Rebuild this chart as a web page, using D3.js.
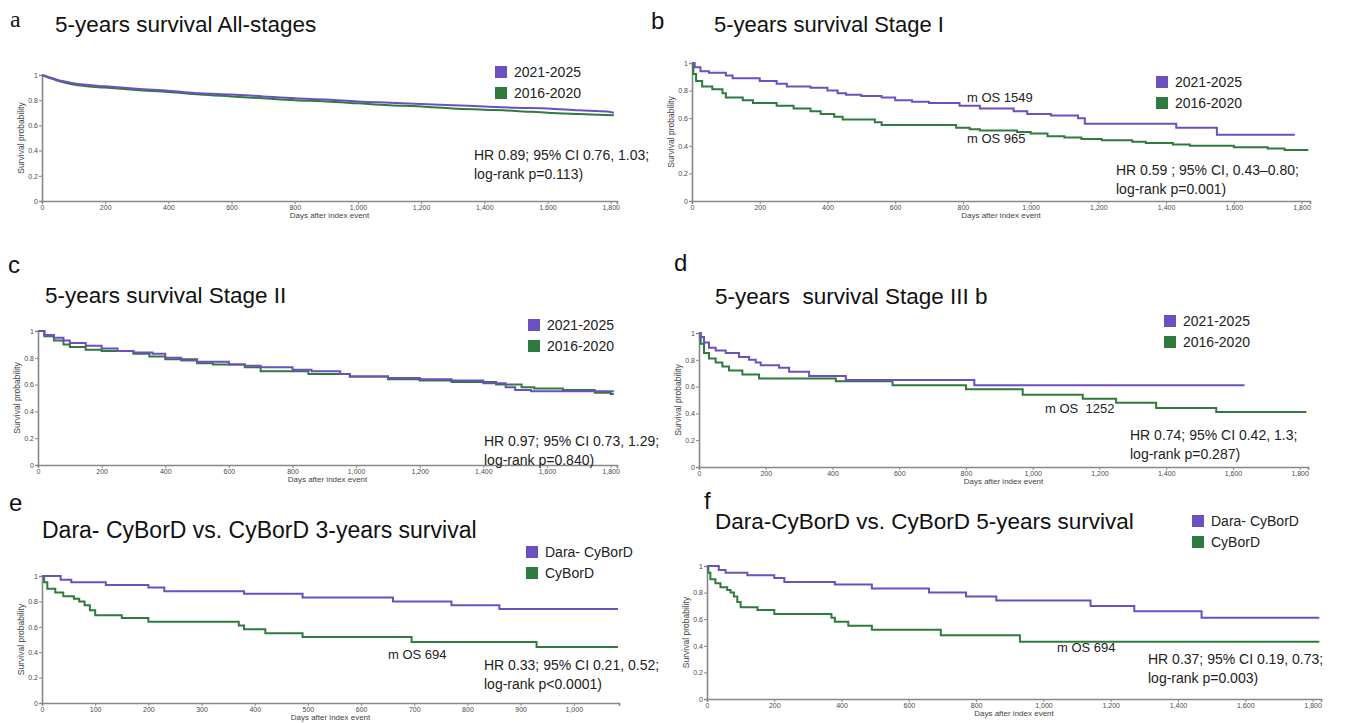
<!DOCTYPE html>
<html>
<head>
<meta charset="utf-8">
<script src="https://cdn.jsdelivr.net/npm/d3@7"></script>
<style>
  body { margin: 0; background: #fff; }
  svg { font-family: "Liberation Sans", Arial, sans-serif; }
  text { white-space: pre; }
</style>
</head>
<body>
<svg id="chart" width="1348" height="723"></svg>
<script>
// legend labels
const periodLabels = ['2021-2025', '2016-2020'];
const regimenLabels = ['Dara- CyBorD', 'CyBorD'];

// survival curves: [days, survival probability]
const aRecent = [[0,1],[20,0.985],[50,0.96],[100,0.935],[200,0.91],[300,0.89],[400,0.875],[500,0.855],[600,0.845],[700,0.83],[800,0.815],[900,0.805],[1000,0.79],[1100,0.78],[1200,0.77],[1300,0.76],[1400,0.75],[1500,0.74],[1600,0.735],[1700,0.72],[1790,0.71],[1810,0.70]];
const aOlder = [[0,1],[20,0.98],[50,0.955],[100,0.925],[200,0.90],[300,0.88],[400,0.865],[500,0.845],[600,0.83],[700,0.815],[800,0.80],[900,0.79],[1000,0.775],[1100,0.76],[1200,0.75],[1300,0.735],[1400,0.725],[1500,0.715],[1600,0.70],[1700,0.69],[1810,0.68]];

const bRecent = [[0,1],[8,0.97],[25,0.94],[50,0.93],[100,0.91],[120,0.89],[200,0.87],[250,0.85],[280,0.83],[350,0.82],[400,0.80],[430,0.78],[455,0.77],[500,0.76],[560,0.75],[600,0.73],[650,0.72],[700,0.71],[790,0.69],[850,0.67],[950,0.65],[990,0.63],[1060,0.62],[1140,0.60],[1160,0.56],[1430,0.53],[1550,0.48],[1780,0.48]];
const bOlder = [[0,1],[4,0.92],[12,0.87],[30,0.83],[60,0.81],[90,0.78],[100,0.75],[150,0.73],[180,0.71],[250,0.69],[300,0.67],[350,0.65],[380,0.63],[420,0.61],[445,0.59],[540,0.57],[560,0.55],[780,0.53],[820,0.52],[850,0.51],[960,0.50],[1000,0.49],[1050,0.47],[1100,0.46],[1150,0.45],[1210,0.44],[1300,0.43],[1340,0.42],[1420,0.41],[1470,0.40],[1600,0.39],[1700,0.38],[1750,0.37],[1820,0.37]];

const cRecent = [[0,1],[20,0.97],[50,0.95],[80,0.93],[100,0.91],[150,0.89],[200,0.87],[250,0.85],[300,0.84],[360,0.83],[400,0.80],[450,0.78],[500,0.77],[600,0.75],[650,0.74],[700,0.73],[800,0.71],[860,0.70],[950,0.68],[980,0.66],[1100,0.65],[1200,0.64],[1300,0.63],[1400,0.61],[1470,0.58],[1500,0.56],[1550,0.55],[1810,0.55]];
const cOlder = [[0,1],[20,0.96],[50,0.93],[80,0.90],[100,0.88],[150,0.86],[200,0.85],[300,0.83],[350,0.81],[400,0.79],[500,0.76],[550,0.75],[650,0.73],[700,0.70],[850,0.68],[980,0.66],[1100,0.64],[1200,0.63],[1300,0.62],[1440,0.60],[1520,0.58],[1560,0.57],[1650,0.56],[1750,0.54],[1800,0.53],[1810,0.53]];

const dRecent = [[0,1],[5,0.97],[15,0.93],[30,0.89],[50,0.87],[80,0.85],[120,0.82],[150,0.80],[170,0.78],[185,0.76],[240,0.74],[270,0.71],[330,0.68],[440,0.65],[825,0.61],[1635,0.61]];
const dOlder = [[0,1],[5,0.92],[15,0.85],[30,0.81],[50,0.78],[70,0.75],[90,0.72],[130,0.69],[180,0.66],[410,0.64],[580,0.61],[800,0.58],[970,0.54],[1150,0.51],[1250,0.48],[1370,0.44],[1550,0.41],[1820,0.41]];

const eDara = [[0,1],[35,0.97],[55,0.95],[120,0.93],[200,0.91],[230,0.88],[380,0.86],[490,0.83],[660,0.80],[770,0.77],[860,0.74],[1083,0.74]];
const eCybord = [[0,1],[4,0.95],[10,0.90],[25,0.87],[40,0.84],[60,0.82],[70,0.80],[80,0.77],[90,0.73],[100,0.69],[150,0.67],[200,0.64],[370,0.61],[380,0.58],[420,0.55],[490,0.52],[695,0.48],[930,0.44],[1083,0.44]];

const fDara = [[0,1],[35,0.97],[55,0.95],[120,0.93],[200,0.91],[230,0.88],[380,0.86],[490,0.83],[660,0.80],[770,0.77],[860,0.74],[1140,0.70],[1270,0.66],[1470,0.61],[1820,0.61]];
const fCybord = [[0,1],[4,0.95],[10,0.90],[25,0.87],[40,0.84],[60,0.82],[70,0.80],[80,0.77],[90,0.73],[100,0.69],[150,0.67],[200,0.64],[370,0.61],[380,0.58],[420,0.55],[490,0.52],[695,0.48],[930,0.43],[1820,0.43]];

const fiveYearTicks = [0,200,400,600,800,1000,1200,1400,1600,1800];
const threeYearTicks = [0,100,200,300,400,500,600,700,800,900,1000];
const yTicks = [0,0.2,0.4,0.6,0.8,1];

const purple = '#6c4fc0';
const green = '#2f7a3d';

const svg = d3.select('#chart');

const panels = [
  { letter: 'a', letterX: 10, letterY: 27, serif: true, title: '5-years survival All-stages', titleX: 55, titleY: 32, titleSize: 22.5,
    left: 42, right: 617, top: 75, bottom: 201, xMax: 1820, ticks: fiveYearTicks, step: false,
    series: [aRecent, aOlder], labels: periodLabels, legX: 501, legY: 72,
    stats: ['HR 0.89; 95% CI 0.76, 1.03;', 'log-rank p=0.113)'], statX: 474, statY: 160, notes: [] },
  { letter: 'b', letterX: 651, letterY: 29, title: '5-years survival Stage I', titleX: 714, titleY: 32, titleSize: 22,
    left: 692, right: 1310, top: 63, bottom: 201, xMax: 1825, ticks: fiveYearTicks, step: true,
    series: [bRecent, bOlder], labels: periodLabels, legX: 1162, legY: 82,
    stats: ['HR 0.59 ; 95% CI, 0.43\u20130.80;', 'log-rank p=0.001)'], statX: 1116, statY: 175,
    notes: [['m OS 1549', 967, 102], ['m OS 965', 967, 143]] },
  { letter: 'c', letterX: 8, letterY: 273, title: '5-years survival Stage II', titleX: 45, titleY: 303, titleSize: 22.5,
    left: 38, right: 617, top: 331, bottom: 465, xMax: 1820, ticks: fiveYearTicks, step: true,
    series: [cRecent, cOlder], labels: periodLabels, legX: 534, legY: 325,
    stats: ['HR 0.97; 95% CI 0.73, 1.29;', 'log-rank p=0.840)'], statX: 484, statY: 446, notes: [] },
  { letter: 'd', letterX: 674, letterY: 271, title: '5-years  survival Stage III b', titleX: 715, titleY: 304, titleSize: 22.5,
    left: 699, right: 1308, top: 333, bottom: 467, xMax: 1825, ticks: fiveYearTicks, step: true,
    series: [dRecent, dOlder], labels: periodLabels, legX: 1170, legY: 321,
    stats: ['HR 0.74; 95% CI 0.42, 1.3;', 'log-rank p=0.287)'], statX: 1130, statY: 440,
    notes: [['m OS  1252', 1045, 413]] },
  { letter: 'e', letterX: 9, letterY: 511, title: 'Dara- CyBorD vs. CyBorD 3-years survival', titleX: 42, titleY: 538, titleSize: 23,
    left: 42, right: 619, top: 576, bottom: 703, xMax: 1085, ticks: threeYearTicks, step: true,
    series: [eDara, eCybord], labels: regimenLabels, legX: 532, legY: 552,
    stats: ['HR 0.33; 95% CI 0.21, 0.52;', 'log-rank p<0.0001)'], statX: 484, statY: 670,
    notes: [['m OS 694', 388, 659]] },
  { letter: 'f', letterX: 704, letterY: 509, title: 'Dara-CyBorD vs. CyBorD 5-years survival', titleX: 715, titleY: 529, titleSize: 22.5,
    left: 707, right: 1321, top: 566, bottom: 699, xMax: 1825, ticks: fiveYearTicks, step: true,
    series: [fDara, fCybord], labels: regimenLabels, legX: 1198, legY: 521,
    stats: ['HR 0.37; 95% CI 0.19, 0.73;', 'log-rank p=0.003)'], statX: 1148, statY: 664,
    notes: [['m OS 694', 1057, 652]] }
];

const lineColors = [purple, green];

panels.forEach(p => {
  const g = svg.append('g');

  // panel letter and title
  g.append('text')
    .attr('x', p.letterX).attr('y', p.letterY)
    .attr('font-size', 24)
    .attr('font-family', p.serif ? '"Liberation Serif", serif' : null)
    .attr('fill', '#111')
    .text(p.letter);
  g.append('text')
    .attr('x', p.titleX).attr('y', p.titleY)
    .attr('font-size', p.titleSize)
    .attr('fill', '#111')
    .text(p.title);

  const x = d3.scaleLinear().domain([0, p.xMax]).range([p.left, p.right]);
  const y = d3.scaleLinear().domain([0, 1]).range([p.bottom, p.top]);

  const xAxis = g.append('g')
    .attr('transform', 'translate(0,' + p.bottom + ')')
    .call(d3.axisBottom(x).tickValues(p.ticks).tickFormat(d3.format(',')).tickSize(3).tickPadding(1));
  const yAxis = g.append('g')
    .attr('transform', 'translate(' + p.left + ',0)')
    .call(d3.axisLeft(y).tickValues(yTicks).tickFormat(d => d === 0 || d === 1 ? d : d.toFixed(1)).tickSize(3).tickPadding(1));

  [xAxis, yAxis].forEach(ax => {
    ax.select('.domain').attr('stroke', '#888').attr('stroke-width', 1.6);
    ax.selectAll('.tick line').attr('stroke', '#888');
    ax.selectAll('.tick text').attr('fill', '#4a4a4a').attr('font-size', 7);
  });

  g.append('text')
    .attr('x', (p.left + p.right) / 2).attr('y', p.bottom + 17)
    .attr('text-anchor', 'middle').attr('font-size', 8).attr('fill', '#444')
    .text('Days after index event');
  g.append('text')
    .attr('transform', 'translate(' + (p.left - 18) + ',' + ((p.top + p.bottom) / 2) + ') rotate(-90)')
    .attr('text-anchor', 'middle').attr('font-size', 8.5).attr('fill', '#444')
    .text('Survival probability');

  // curves
  const line = d3.line()
    .x(d => x(d[0]))
    .y(d => y(d[1]))
    .curve(p.step ? d3.curveStepAfter : d3.curveMonotoneX);

  // green first so purple sits on top
  [1, 0].forEach(i => {
    g.append('path')
      .datum(p.series[i])
      .attr('fill', 'none')
      .attr('stroke', lineColors[i])
      .attr('stroke-width', 2)
      .attr('d', line);
  });

  // legend
  p.labels.forEach((lab, i) => {
    g.append('rect')
      .attr('x', p.legX - 6).attr('y', p.legY - 6 + i * 21)
      .attr('width', 12).attr('height', 12)
      .attr('fill', lineColors[i]);
    g.append('text')
      .attr('x', p.legX + 13).attr('y', p.legY + 5 + i * 21)
      .attr('font-size', 14).attr('fill', '#222')
      .text(lab);
  });

  // stats
  p.stats.forEach((s, i) => {
    g.append('text')
      .attr('x', p.statX).attr('y', p.statY + i * 19)
      .attr('font-size', 14).attr('fill', '#222')
      .text(s);
  });

  p.notes.forEach(n => {
    g.append('text')
      .attr('x', n[1]).attr('y', n[2])
      .attr('font-size', 13).attr('fill', '#222')
      .text(n[0]);
  });
});
</script>
</body>
</html>
